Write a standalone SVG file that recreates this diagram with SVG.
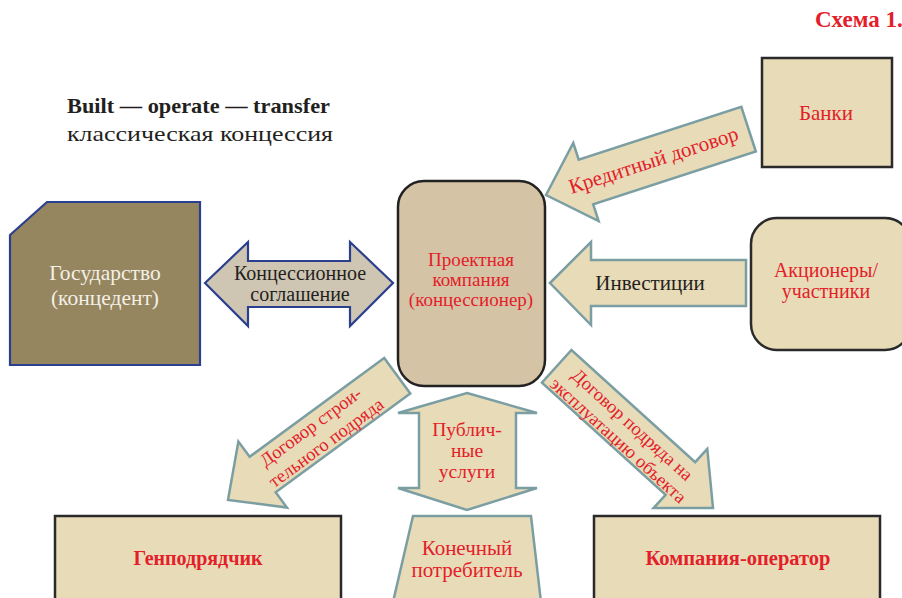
<svg xmlns="http://www.w3.org/2000/svg" width="902" height="598" viewBox="0 0 902 598">
<style>
text{font-family:"Liberation Serif","DejaVu Serif","Times New Roman",serif;font-size:20px;text-anchor:middle}
.red{fill:#e3202a}
.blk{fill:#231f20}
.box{fill:#e8dbb8;stroke:#2a2a2a;stroke-width:2.5}
.arr{fill:#e8dbb8;stroke:#7b9ea3;stroke-width:2.5;stroke-linejoin:miter}
.b{font-weight:bold}
</style>
<rect width="902" height="598" fill="#ffffff"/>
<text x="815" y="27" class="red b" style="text-anchor:start;font-size:23px">Схема 1.</text>
<text x="67" y="113" class="blk b" style="text-anchor:start;font-size:21px" textLength="263" lengthAdjust="spacingAndGlyphs">Built — operate — transfer</text>
<text x="67" y="141" class="blk" style="text-anchor:start;font-size:21px" textLength="266" lengthAdjust="spacingAndGlyphs">классическая концессия</text>

<g id="connectors">
  <g id="credit">
    <polygon class="arr" transform="translate(546,195) rotate(-18)" points="0,0 42,-41 42,-23.5 213,-23.5 213,23.5 42,23.5 42,41"/>
    <text class="red" transform="translate(546,195) rotate(-18)" x="113" y="7" style="font-size:21px">Кредитный договор</text>
  </g>
  <g id="invest">
    <polygon class="arr" points="550,283 591,242 591,260 746,260 746,306 591,306 591,325"/>
    <text class="blk" x="650" y="290" style="font-size:21px">Инвестиции</text>
  </g>
  <g id="concession">
    <polygon points="205,283 248,242 248,261 350,261 350,242 393,283 350,326 350,307 248,307 248,326" fill="#cfc5b3" stroke="#2b3f8f" stroke-width="2.2"/>
    <text class="blk" x="300" y="280">Концессионное</text>
    <text class="blk" x="300" y="301">соглашение</text>
  </g>
  <g id="construction">
    <polygon class="arr" transform="translate(228,500) rotate(-36.3)" points="0,0 43,-41 43,-22 210,-22 210,22 43,22 43,41"/>
    <g transform="translate(228,500) rotate(-36.3)">
      <text class="red" x="110" y="-4" style="font-size:18.5px">Договор строи-</text>
      <text class="red" x="113" y="18" style="font-size:18.5px">тельного подряда</text>
    </g>
  </g>
  <g id="operation">
    <polygon class="arr" transform="translate(713,508) rotate(-137.8)" points="0,0 44,-40 44,-22 211,-22 211,22 44,22 44,40"/>
    <g transform="translate(625,433) rotate(42.2)">
      <text class="red" x="0" y="-5" style="font-size:18.5px">Договор подряда на</text>
      <text class="red" x="0" y="16" style="font-size:18.5px">эксплуатацию объекта</text>
    </g>
  </g>
  <g id="public">
    <polygon class="arr" points="467,393 537,413 516,413 516,488 537,488 467,510 398,488 419,488 419,413 398,413"/>
    <text class="red" x="467" y="436" style="font-size:19.5px">Публич-</text>
    <text class="red" x="467" y="457" style="font-size:19.5px">ные</text>
    <text class="red" x="467" y="478" style="font-size:19.5px">услуги</text>
  </g>
</g>

<g id="state">
  <polygon points="10,235 47,202 200,202 200,365 10,365" fill="#968660" stroke="#2b3f8f" stroke-width="2.2"/>
  <text x="105" y="280" fill="#f3f0e6" style="font-size:21.5px">Государство</text>
  <text x="105" y="305" fill="#f3f0e6" style="font-size:21.5px">(концедент)</text>
</g>
<g id="project">
  <rect x="398" y="181" width="147" height="205" rx="26" fill="#d5c3a5" stroke="#222" stroke-width="2.5"/>
  <text class="red" x="471" y="266" style="font-size:19px">Проектная</text>
  <text class="red" x="471" y="286" style="font-size:19px">компания</text>
  <text class="red" x="471" y="306" style="font-size:19px">(концессионер)</text>
</g>
<g id="banks">
  <rect x="762" y="58" width="130" height="109" class="box"/>
  <text class="red" x="826" y="120" style="font-size:21px">Банки</text>
</g>
<g id="shareholders">
  <rect x="751" y="218" width="160" height="132" rx="26" class="box"/>
  <text class="red" x="826" y="277">Акционеры/</text>
  <text class="red" x="826" y="298">участники</text>
</g>
<g id="consumer">
  <polygon class="arr" points="413,516 531,516 541,602 393,602"/>
  <text class="red" x="467" y="555" style="font-size:21px">Конечный</text>
  <text class="red" x="467" y="577" style="font-size:21px">потребитель</text>
</g>
<g id="contractor">
  <rect x="55" y="516" width="286" height="90" class="box"/>
  <text class="red b" x="198" y="565">Генподрядчик</text>
</g>
<g id="operator">
  <rect x="594" y="516" width="286" height="90" class="box"/>
  <text class="red b" x="738" y="565" style="font-size:20.5px">Компания-оператор</text>
</g>
</svg>
